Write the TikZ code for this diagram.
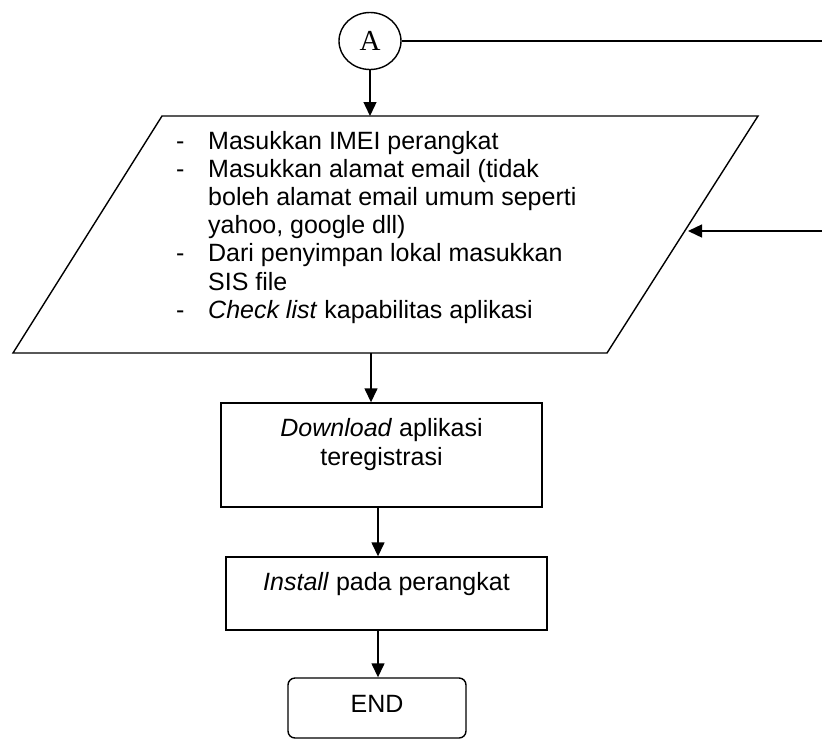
\documentclass[tikz,border=0pt]{standalone}
\usepackage{fontspec}
\setmainfont{Liberation Sans}
\newfontfamily\serifA{Liberation Serif}
\usetikzlibrary{arrows.meta,shapes.geometric}

\tikzset{
  flowline/.style={line width=1.4pt, draw=black},
  flowarrow/.style={flowline, -{Triangle[length=14pt,width=13pt]}},
  procbox/.style={draw=black, line width=1.4pt, fill=white, inner sep=0pt},
  endbox/.style={procbox, rounded corners=7pt},
  connector/.style={draw=black, line width=1.4pt, fill=white, ellipse, inner sep=0pt,
                    minimum width=62pt, minimum height=57pt},
  lbl/.style={inner sep=0pt, font=\fontsize{25}{28.2}\selectfont, align=center},
}

\begin{document}
\begin{tikzpicture}[x=1pt,y=-1pt]
  \useasboundingbox (0,0) rectangle (822,740);

  % off-page connector A
  \node[connector, font=\serifA\fontsize{29}{30}\selectfont] (conA) at (370,41) {A};

  % input parallelogram
  \coordinate (pTL) at (162,116);
  \coordinate (pTR) at (758,116);
  \coordinate (pBR) at (607,353);
  \coordinate (pBL) at (13,353);
  \draw[flowline, fill=white] (pTL) -- (pTR) -- (pBR) -- (pBL) -- cycle;
  \coordinate (inTop) at (370,116);
  \coordinate (inBot) at (371,353);
  \coordinate (inRight) at (688,231);

  \node[lbl, anchor=base west, align=left] (inText) at (176,149) {%
    \begin{tabular}[t]{@{}p{32pt}@{}l@{}}
      - & Masukkan IMEI perangkat\\
      - & Masukkan alamat email (tidak\\
        & boleh alamat email umum seperti\\
        & yahoo, google dll)\\
      - & Dari penyimpan lokal masukkan\\
        & SIS file\\
      - & \textit{Check list} kapabilitas aplikasi
    \end{tabular}};

  % process boxes
  \node[procbox, minimum width=321pt, minimum height=104pt] (dl) at (381.5,455) {};
  \node[lbl, anchor=base] (dlText) at (381.5,465) {\textit{Download} aplikasi\\teregistrasi};

  \node[procbox, minimum width=321pt, minimum height=73pt] (inst) at (386.5,593.5) {};
  \node[lbl, anchor=base] (instText) at (386.5,590) {\textit{Install} pada perangkat};

  \node[endbox, minimum width=178pt, minimum height=60pt] (fin) at (377,708) {};
  \node[lbl, anchor=base] (finText) at (377,712) {END};

  % right-hand incoming / outgoing lines
  \coordinate (rTop) at (822,41);
  \coordinate (rMid) at (822,231);
  \draw[flowline] (conA.east) -- (rTop);
  \draw[flowarrow] (rMid) -- (inRight);

  % vertical flow
  \draw[flowarrow] (conA.south) -- (inTop);
  \draw[flowarrow] (inBot) -- (inBot |- dl.north);
  \draw[flowarrow] (378,507) coordinate (dlOut) -- (dlOut |- inst.north);
  \draw[flowarrow] (inst.south -| dlOut) -- (dlOut |- fin.north);
\end{tikzpicture}
\end{document}
